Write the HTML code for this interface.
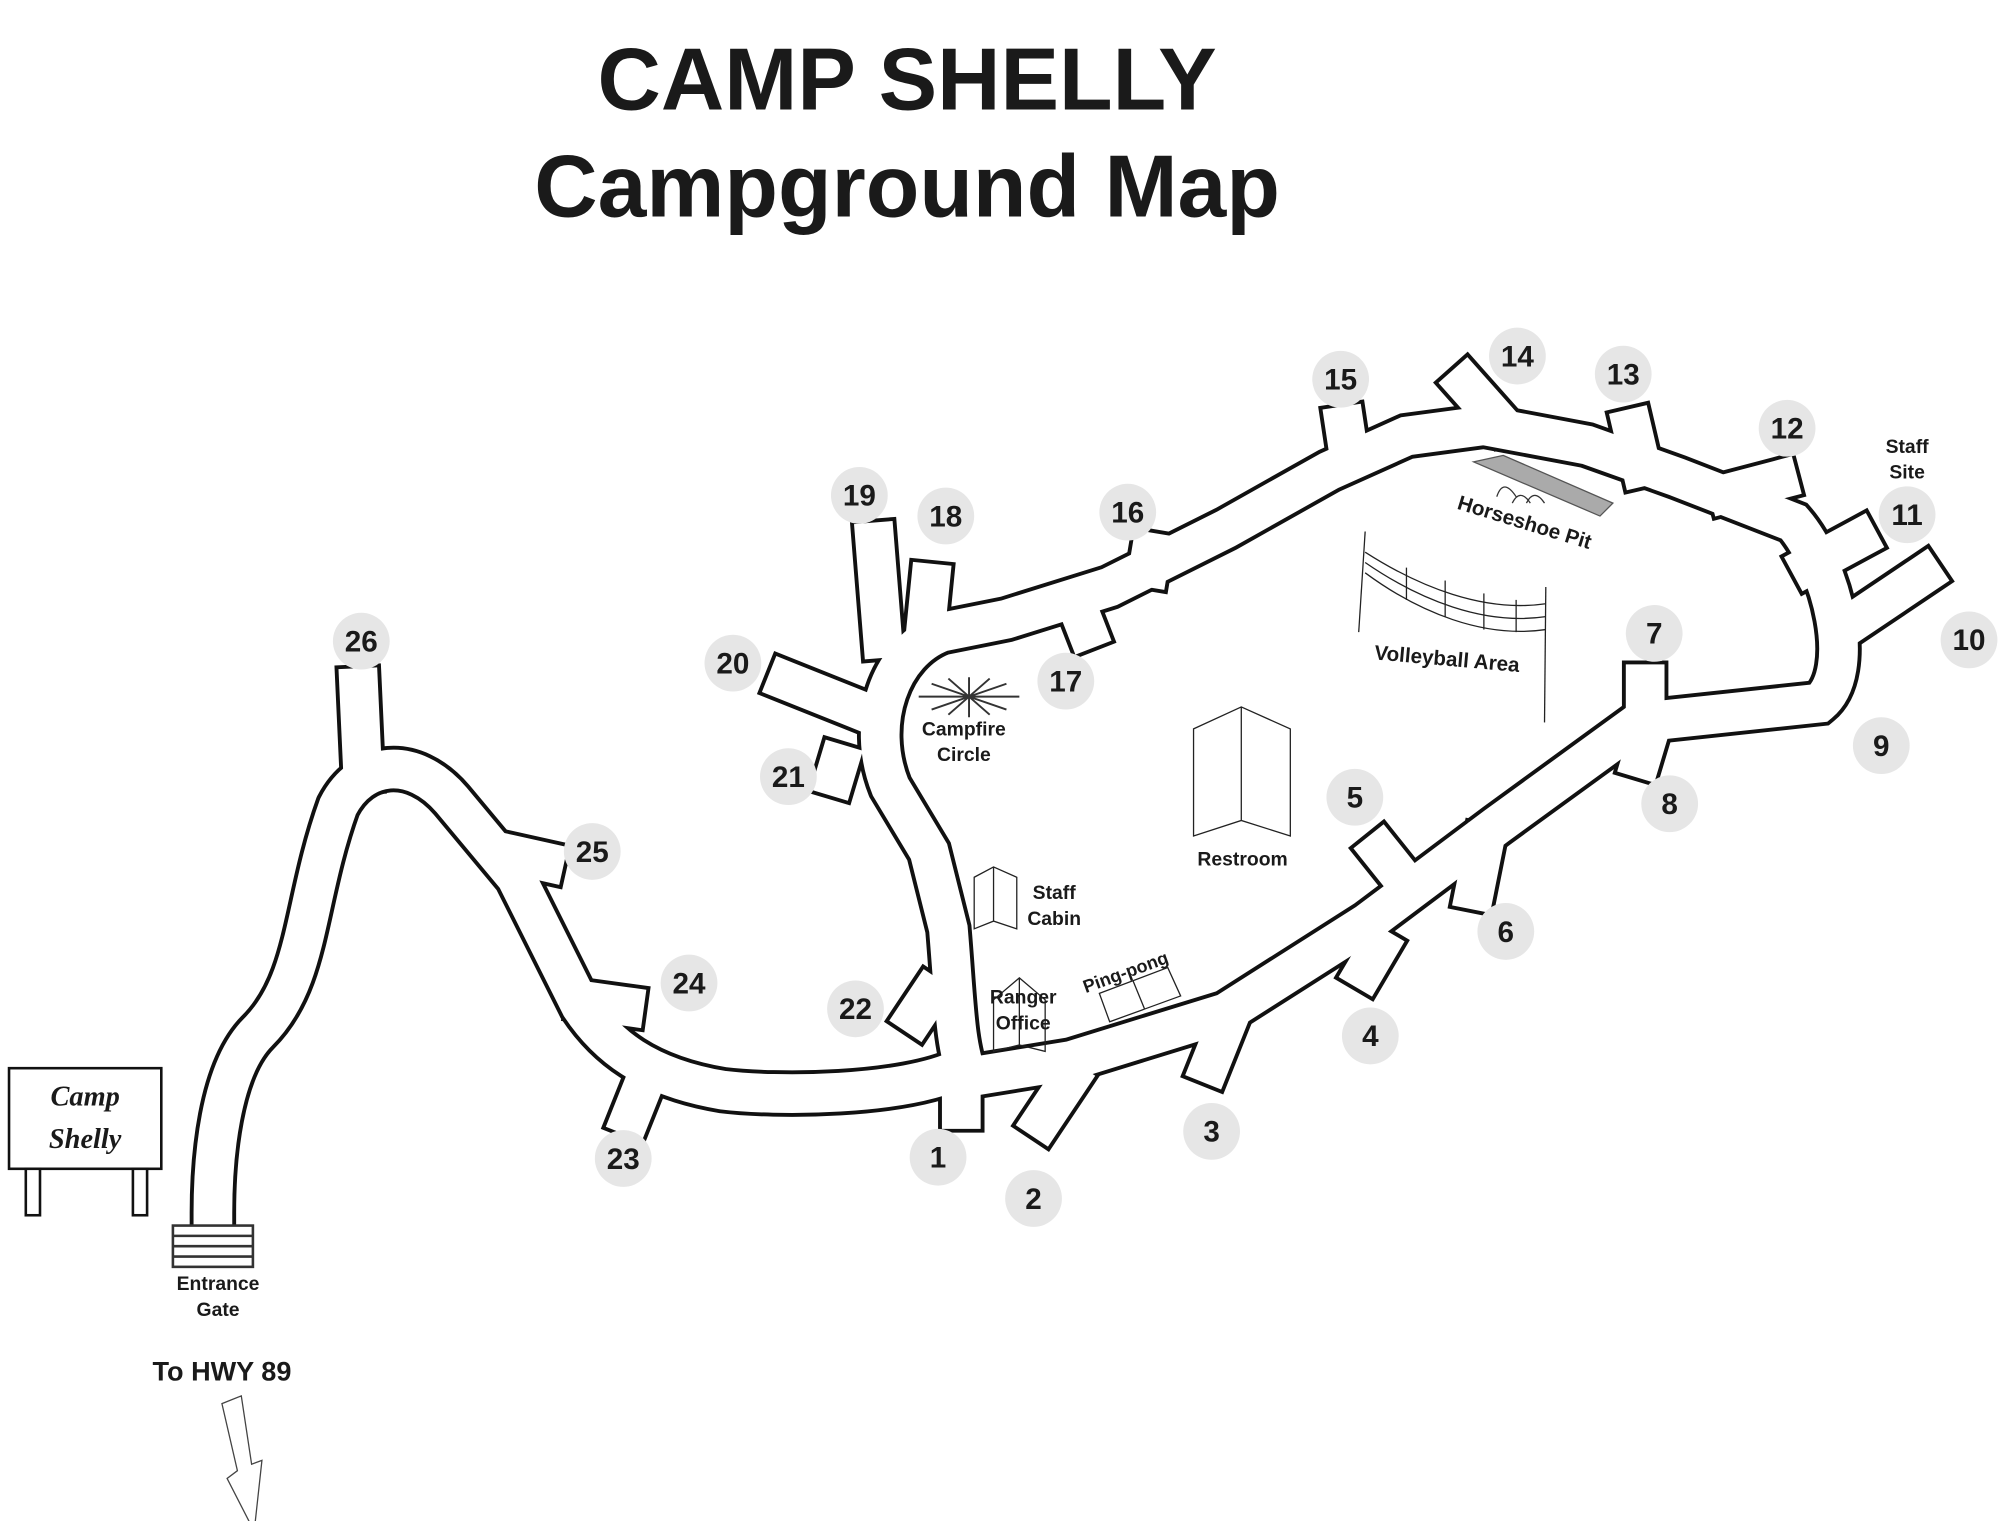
<!DOCTYPE html>
<html><head><meta charset="utf-8"><style>
html,body{margin:0;padding:0;background:#fff;}
svg{display:block}
text{font-family:"Liberation Sans",sans-serif;font-weight:bold;fill:#1a1a1a}
</style></head><body>
<svg width="2000" height="1521" viewBox="0 0 1550 1179" preserveAspectRatio="none" xmlns="http://www.w3.org/2000/svg">
<rect width="1550" height="1179" fill="#fff"/>
<text x="703" y="85" font-size="68" text-anchor="middle">CAMP SHELLY</text>
<text x="703" y="168" font-size="68" text-anchor="middle">Campground Map</text>

<g fill="none" stroke-linejoin="miter" stroke-linecap="square">
<g stroke="#111" stroke-width="36">
<path d="M750,835 L830,822 L950,785 L1060,715 L1160,640 L1270,560 L1410,545 C1440,520 1420,440 1390,405 L1300,370 L1230,345 L1150,330 L1090,338 L1030,365 L950,410 L860,455 L780,480 L730,490 C690,505 670,560 690,610 L720,660 L735,720 C740,780 740,810 750,835 Z"/>
<path d="M745,828 C700,850 600,850 560,845 C500,835 470,810 450,780 L400,680 L350,620 C320,585 280,590 262,625 C235,700 240,760 200,800 C170,830 165,900 165,940"/>
<path d="M745,840 L745,860 M828,838 L808,868 M948,800 L938,825 M1068,735 L1058,752 M1090,685 L1070,660 M1150,655 L1143,690 M1275,555 L1275,530 M1275,578 L1272,588 M1432,485 L1490,446 M1403,438 L1440,418 M1340,382 L1378,372 M1272,362 L1265,332 M1160,325 L1136,298 M1045,350 L1042,330 M890,440 L892,428 M835,470 L842,488 M718,482 L721,452 M684,495 L678,420 M660,548 L610,528 M650,592 L647,602 M720,772 L710,787 M495,850 L489,865 M455,776 L484,780 M395,662 L422,668 M281,598 L278,533"/>
</g>
<g stroke="#fff" stroke-width="30">
<path d="M750,835 L830,822 L950,785 L1060,715 L1160,640 L1270,560 L1410,545 C1440,520 1420,440 1390,405 L1300,370 L1230,345 L1150,330 L1090,338 L1030,365 L950,410 L860,455 L780,480 L730,490 C690,505 670,560 690,610 L720,660 L735,720 C740,780 740,810 750,835 Z"/>
<path d="M745,828 C700,850 600,850 560,845 C500,835 470,810 450,780 L400,680 L350,620 C320,585 280,590 262,625 C235,700 240,760 200,800 C170,830 165,900 165,940"/>
<path d="M745,840 L745,860 M828,838 L808,868 M948,800 L938,825 M1068,735 L1058,752 M1090,685 L1070,660 M1150,655 L1143,690 M1275,555 L1275,530 M1275,578 L1272,588 M1432,485 L1490,446 M1403,438 L1440,418 M1340,382 L1378,372 M1272,362 L1265,332 M1160,325 L1136,298 M1045,350 L1042,330 M890,440 L892,428 M835,470 L842,488 M718,482 L721,452 M684,495 L678,420 M660,548 L610,528 M650,592 L647,602 M720,772 L710,787 M495,850 L489,865 M455,776 L484,780 M395,662 L422,668 M281,598 L278,533"/>
</g>
</g>

<g fill="#e6e6e6">
<circle cx="727" cy="897" r="22"/><circle cx="801" cy="929" r="22"/><circle cx="939" cy="877" r="22"/><circle cx="1062" cy="803" r="22"/><circle cx="1050" cy="618" r="22"/><circle cx="1167" cy="722" r="22"/><circle cx="1282" cy="491" r="22"/><circle cx="1294" cy="623" r="22"/><circle cx="1458" cy="578" r="22"/><circle cx="1526" cy="496" r="22"/><circle cx="1478" cy="399" r="22"/><circle cx="1385" cy="332" r="22"/><circle cx="1258" cy="290" r="22"/><circle cx="1176" cy="276" r="22"/><circle cx="1039" cy="294" r="22"/><circle cx="874" cy="397" r="22"/><circle cx="826" cy="528" r="22"/><circle cx="733" cy="400" r="22"/><circle cx="666" cy="384" r="22"/><circle cx="568" cy="514" r="22"/><circle cx="611" cy="602" r="22"/><circle cx="663" cy="782" r="22"/><circle cx="483" cy="898" r="22"/><circle cx="534" cy="762" r="22"/><circle cx="459" cy="660" r="22"/><circle cx="280" cy="497" r="22"/>
</g>
<g font-size="23" text-anchor="middle">
<text x="727" y="905">1</text><text x="801" y="937">2</text><text x="939" y="885">3</text><text x="1062" y="811">4</text><text x="1050" y="626">5</text><text x="1167" y="730">6</text><text x="1282" y="499">7</text><text x="1294" y="631">8</text><text x="1458" y="586">9</text><text x="1526" y="504">10</text><text x="1478" y="407">11</text><text x="1385" y="340">12</text><text x="1258" y="298">13</text><text x="1176" y="284">14</text><text x="1039" y="302">15</text><text x="874" y="405">16</text><text x="826" y="536">17</text><text x="733" y="408">18</text><text x="666" y="392">19</text><text x="568" y="522">20</text><text x="611" y="610">21</text><text x="663" y="790">22</text><text x="483" y="906">23</text><text x="534" y="770">24</text><text x="459" y="668">25</text><text x="280" y="505">26</text>
</g>
<text x="1478" y="351" font-size="15" text-anchor="middle">Staff</text>
<text x="1478" y="371" font-size="15" text-anchor="middle">Site</text>

<polygon points="1142,358 1165,353 1250,390 1240,400" fill="#aaa" stroke="#555"/>
<text x="1180" y="410" font-size="16" text-anchor="middle" transform="rotate(17 1180 410)">Horseshoe Pit</text>
<path d="M1160,385 q5,-15 15,0 M1172,390 q6,-12 14,0 M1183,390 q6,-12 14,0" fill="none" stroke="#333"/>
<g stroke="#222" fill="none" stroke-width="1">
<line x1="1058" y1="412" x2="1053" y2="490"/><line x1="1198" y1="455" x2="1197" y2="560"/>
<path d="M1058,428 C1100,455 1150,475 1198,468 M1058,436 C1100,465 1150,485 1198,478 M1058,444 C1100,475 1150,495 1198,488"/>
<line x1="1090" y1="440" x2="1090" y2="465"/><line x1="1120" y1="450" x2="1120" y2="478"/><line x1="1150" y1="460" x2="1150" y2="488"/><line x1="1175" y1="465" x2="1175" y2="490"/>
</g>
<text x="1121" y="516" font-size="16" text-anchor="middle" transform="rotate(5 1121 516)">Volleyball Area</text>
<g stroke="#222" fill="none"><path d="M925,565 L962,548 L1000,565 L1000,648 L962,636 L925,648 Z M962,548 L962,636"/></g>
<text x="963" y="671" font-size="15" text-anchor="middle">Restroom</text>
<g stroke="#333" stroke-width="1.5"><path d="M712,540 L790,540 M751,525 L751,556 M722,530 L780,550 M722,550 L780,530 M735,526 L767,554 M735,554 L767,526"/></g>
<text x="747" y="570" font-size="15" text-anchor="middle">Campfire</text>
<text x="747" y="590" font-size="15" text-anchor="middle">Circle</text>
<path d="M755,680 L770,672 L788,680 L788,720 L770,714 L755,720 Z M770,672 L770,714" stroke="#222" fill="none"/>
<text x="817" y="697" font-size="15" text-anchor="middle">Staff</text>
<text x="817" y="717" font-size="15" text-anchor="middle">Cabin</text>
<path d="M770,775 L790,758 L810,775 L810,815 L790,810 L770,815 Z M790,758 L790,810" stroke="#222" fill="none"/>
<text x="793" y="778" font-size="15" text-anchor="middle">Ranger</text>
<text x="793" y="798" font-size="15" text-anchor="middle">Office</text>
<polygon points="852,770 905,750 915,772 860,792" fill="none" stroke="#222"/>
<line x1="878" y1="760" x2="887" y2="782" stroke="#222"/>
<text x="874" y="758" font-size="14" text-anchor="middle" transform="rotate(-20 874 758)">Ping-pong</text>
<rect x="7" y="828" width="118" height="78" fill="#fff" stroke="#111" stroke-width="2"/>
<rect x="20" y="906" width="11" height="36" fill="#fff" stroke="#111" stroke-width="2"/>
<rect x="103" y="906" width="11" height="36" fill="#fff" stroke="#111" stroke-width="2"/>
<text x="66" y="857" font-size="22" text-anchor="middle" font-style="italic" style="font-family:'Liberation Serif',serif">Camp</text>
<text x="66" y="890" font-size="22" text-anchor="middle" font-style="italic" style="font-family:'Liberation Serif',serif">Shelly</text>
<g stroke="#333" stroke-width="2"><rect x="134" y="950" width="62" height="32" fill="#fff"/><line x1="134" y1="958" x2="196" y2="958"/><line x1="134" y1="966" x2="196" y2="966"/><line x1="134" y1="974" x2="196" y2="974"/></g>
<text x="169" y="1000" font-size="15" text-anchor="middle">Entrance</text>
<text x="169" y="1020" font-size="15" text-anchor="middle">Gate</text>
<text x="172" y="1070" font-size="21" text-anchor="middle">To HWY 89</text>
<path d="M172,1088 L187,1082 L195,1135 L203,1132 L197,1187 L176,1146 L184,1140 L172,1088 Z" fill="#fff" stroke="#444"/>
</svg>
</body></html>
